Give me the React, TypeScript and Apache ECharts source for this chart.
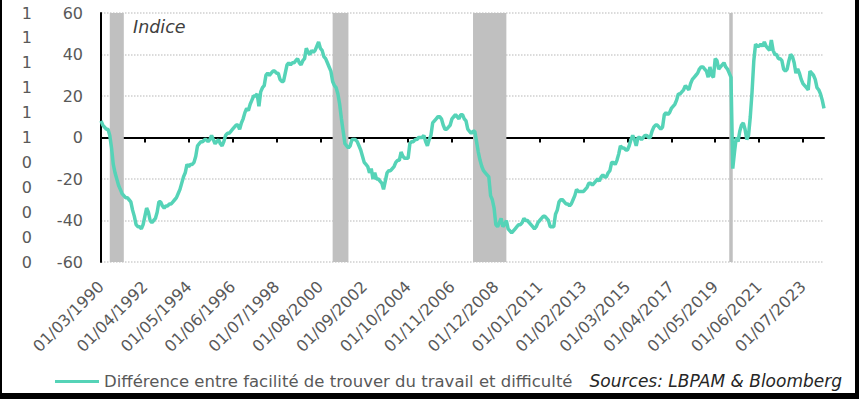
import React, { useEffect, useRef } from "react";
import * as echarts from "echarts";

// Monthly index, starting 01/03/1990
const startYear = 1990;
const startMonth = 3;

// 1990-03 .. 1999-12
const values1990s = [
  8, 6, 5, 4, 4, 1, -5, -13, -17, -20,
  -23, -25, -27, -28, -29, -29, -30, -31, -35, -38, -42, -43,
  -43, -44, -42, -38, -34, -36, -40, -41, -40, -39, -36, -31,
  -31, -33, -34, -33, -33, -32, -32, -31, -30, -29, -27, -25,
  -22, -19, -17, -13, -14, -13, -13, -12, -9, -4, -3, -2,
  -2, -1, -1, -2, -1, 1, -1, -3, -2, -1, -3, -4,
  -2, 1, 2, 2, 3, 4, 5, 6, 6, 4, 7, 9,
  12, 14, 13, 16, 18, 20, 20, 21, 15, 22, 24, 25,
  30, 31, 30, 31, 32, 32, 31, 31, 28, 27, 27, 31,
  35, 36, 35, 36, 36, 37, 38, 36, 35, 37, 38, 43,
];
// 2000-01 .. 2009-12
const values2000s = [
  41, 40, 42, 41, 42, 44, 46, 43, 42, 39, 38, 36,
  34, 32, 27, 25, 24, 21, 16, 9, 3, -3, -4, -5,
  -4, -1, -1, -1, -2, -4, -6, -9, -12, -13, -14, -17,
  -15, -20, -17, -20, -20, -21, -22, -25, -21, -17, -16, -16,
  -15, -14, -12, -11, -11, -7, -9, -10, -10, -10, -3, -2,
  -2, -1, -1, 0, 0, 0, 1, -2, -4, -1, 1, 7,
  8, 9, 10, 10, 9, 6, 4, 4, 5, 6, 9, 10,
  11, 10, 9, 11, 11, 9, 8, 4, 3, 2, 3, 3,
  -2, -7, -11, -14, -16, -17, -18, -19, -28, -30, -34, -42,
  -43, -41, -39, -43, -42, -40, -44, -45, -46, -45, -44, -43,
];
// 2010-01 .. 2019-12
const values2010s = [
  -42, -42, -41, -39, -40, -40, -41, -42, -43, -44, -43, -41,
  -40, -39, -38, -38, -39, -40, -43, -43, -43, -37, -35, -31,
  -30, -30, -31, -32, -32, -33, -32, -30, -28, -25, -26, -26,
  -26, -26, -25, -24, -22, -22, -23, -22, -21, -20, -21, -19,
  -18, -19, -19, -17, -16, -12, -12, -13, -11, -8, -4, -5,
  -5, -6, -6, -4, -1, 1, -1, -4, 0, 0, -1, 0,
  1, 1, 0, 0, 3, 5, 6, 6, 5, 4, 5, 11,
  12, 11, 12, 14, 15, 16, 18, 21, 21, 22, 23, 25,
  24, 23, 26, 28, 29, 30, 31, 33, 34, 34, 33, 32,
  29, 34, 30, 29, 38, 37, 33, 34, 35, 36, 34, 33,
];
// 2020-01 .. 2024-07
const values2020s = [
  31, 29, -15, -7, 0, -2, 3, 6, 7, 4, -1, 1,
  10, 22, 37, 45, 44, 44, 45, 44, 46, 44, 43, 42,
  47, 42, 40, 40, 38, 38, 37, 33, 32, 33, 37, 40,
  39, 36, 31, 33, 31, 28, 26, 25, 24, 23, 32, 31,
  30, 28, 24, 23, 21, 18, 14,
];

const seriesValues = [...values1990s, ...values2000s, ...values2010s, ...values2020s];

const categories: string[] = seriesValues.map((_, i) => {
  const t = startMonth - 1 + i;
  const y = startYear + Math.floor(t / 12);
  const m = (t % 12) + 1;
  return `01/${String(m).padStart(2, "0")}/${y}`;
});

// Recession periods (shaded) as [start, end] category labels
const recessions: [string, string][] = [
  ["01/08/1990", "01/04/1991"],
  ["01/03/2001", "01/12/2001"],
  ["01/11/2007", "01/06/2009"],
  ["01/01/2020", "01/03/2020"],
];

const seriesName = "Différence entre facilité de trouver du travail et difficulté";
const yTitle = "Indice";
const sourceText = "Sources: LBPAM & Bloomberg";

const FONT = "DejaVu Sans";
const GRAY = "#595959";
const TEAL = "#55D3B7";

export default function App() {
  const ref = useRef<HTMLDivElement>(null);
  useEffect(() => {
    if (!ref.current) return;
    const chart = echarts.init(ref.current, undefined, { renderer: "svg" });
    chart.setOption({
      animation: false,
      backgroundColor: "#ffffff",
      textStyle: { fontFamily: FONT },
      grid: { left: 101, right: 35, top: 13, bottom: 137 },
      legend: {
        left: 50,
        top: 368,
        icon: "rect",
        itemWidth: 44,
        itemHeight: 3,
        textStyle: { fontFamily: FONT, fontSize: 16.5, color: GRAY },
        data: [seriesName],
      },
      xAxis: [
        {
          type: "category",
          data: categories,
          boundaryGap: false,
          position: "bottom",
          axisLine: { show: false, onZero: false },
          axisTick: { show: false },
          splitLine: { show: false },
          axisLabel: {
            interval: 24,
            rotate: 45,
            margin: 22,
            fontFamily: FONT,
            fontSize: 16,
            color: GRAY,
          },
        },
        {
          type: "category",
          data: categories,
          boundaryGap: false,
          position: "bottom",
          axisLine: { show: true, onZero: true, onZeroAxisIndex: 0, lineStyle: { color: "#000", width: 2 } },
          axisTick: { show: true, interval: 24, length: 5, lineStyle: { color: "#000", width: 2 } },
          axisLabel: { show: false },
          splitLine: { show: false },
        },
      ],
      yAxis: [
        {
          type: "value",
          min: -60,
          max: 60,
          interval: 20,
          axisLine: { show: true, lineStyle: { color: "#000", width: 2 } },
          axisTick: { show: false },
          splitLine: { show: true, lineStyle: { color: "#d0d0d0", width: 1.5, type: "dotted" } },
          axisLabel: { fontFamily: FONT, fontSize: 16, color: GRAY, margin: 18 },
        },
        {
          type: "value",
          min: 0,
          max: 1,
          interval: 0.1,
          position: "left",
          axisLine: { show: false, onZero: false },
          axisTick: { show: false },
          splitLine: { show: false },
          axisLabel: {
            fontFamily: FONT,
            fontSize: 16,
            color: GRAY,
            margin: 69,
            formatter: (v: number) => String(Math.round(v)),
          },
        },
      ],
      series: [
        {
          name: seriesName,
          type: "line",
          xAxisIndex: 0,
          yAxisIndex: 0,
          data: seriesValues,
          symbol: "none",
          lineStyle: { color: TEAL, width: 3.5 },
          itemStyle: { color: TEAL },
          z: 5,
          markArea: {
            silent: true,
            itemStyle: { color: "#c0c0c0" },
            data: recessions.map(([a, b]) => [{ xAxis: a }, { xAxis: b }]),
          },
        },
      ],
      graphic: [
        {
          type: "text",
          left: 133,
          top: 18,
          style: { text: yTitle, fontFamily: FONT, fontSize: 17.5, fontStyle: "italic", fill: "#404040" },
        },
        {
          type: "text",
          right: 17,
          top: 372,
          style: { text: sourceText, fontFamily: FONT, fontSize: 17, fontStyle: "italic", fill: "#262626" },
        },
        { type: "rect", shape: { x: 0, y: 0, width: 2, height: 399 }, style: { fill: "#000" } },
        { type: "rect", shape: { x: 855, y: 0, width: 4, height: 399 }, style: { fill: "#000" } },
        { type: "rect", shape: { x: 0, y: 393, width: 859, height: 6 }, style: { fill: "#000" } },
      ],
    });
    return () => chart.dispose();
  }, []);
  return (
    <div
      ref={ref}
      style={{ position: "fixed", left: 0, top: 0, width: 859, height: 399 }}
    />
  );
}
